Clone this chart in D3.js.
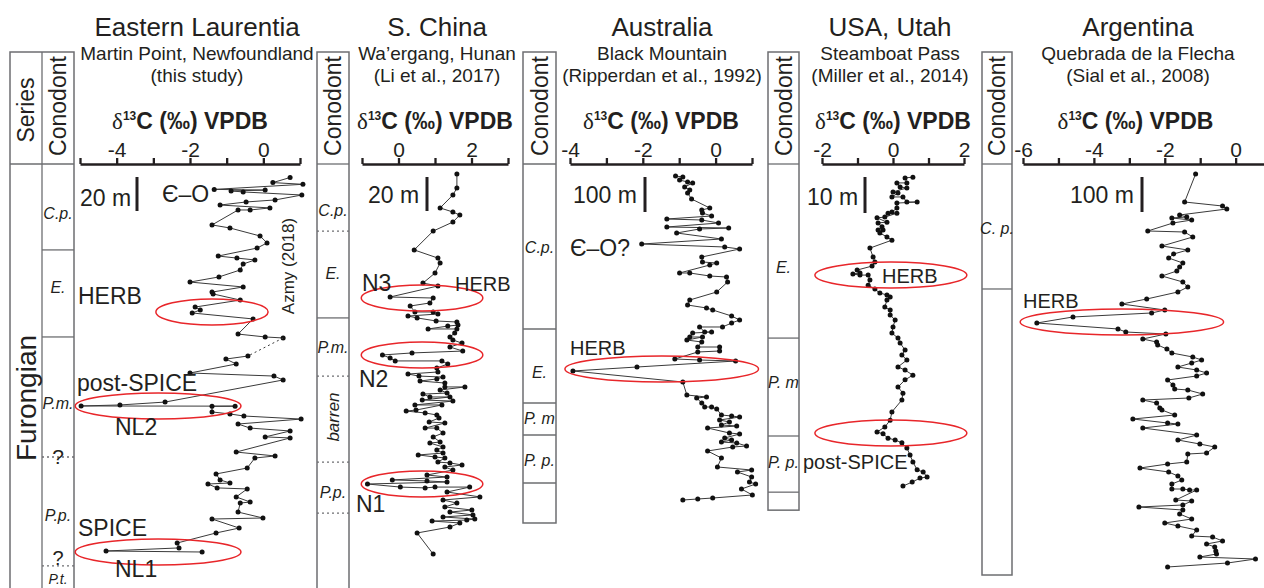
<!DOCTYPE html>
<html>
<head>
<meta charset="utf-8">
<title>Furongian carbon isotope correlation</title>
<style>
  body { margin: 0; background: #fff; }
  text { font-family: "Liberation Sans", Arial, sans-serif; fill: #231f20; }
  .box { fill: none; stroke: #6d6e71; stroke-width: 1.5; }
  .zone { stroke: #6d6e71; stroke-width: 1.3; }
  .zone.dot { stroke-dasharray: 2,3; }
  .axis path, .axis line { stroke: #231f20; stroke-width: 2.3; }
  .axis text { font-size: 21px; fill: #231f20; }
  .curve { fill: none; stroke: #3a3a3a; stroke-width: 1; }
  .pt { fill: #111; }
  .oval { fill: none; stroke: #e8262a; stroke-width: 1.5; }
</style>
</head>
<body>
<script src="https://d3js.org/d3.v7.min.js"></script>
<script>
// ---- data : [height (m), d13C (permil VPDB)] ----
var laurentiaUpper = [[225,0.73],[222,0.26],[221,1.08],[218,-1.34],[217.6,0.05],[217.1,-0.88],[216.5,-0.55],[214.7,1.05],
  [211.8,0.32],[210.6,-0.47],[208.8,-1.18],[207.1,0.18],[205.9,-0.36],[205.9,-0.69],[197.1,-1.40],[195.3,-0.91],[190.6,-0.09],
  [186.5,0.10],[183.5,-0.17],[178.8,-1.23],[177.6,-0.72],[176.5,-0.23],[174.1,-0.55],[170.6,-0.63],[166.5,-1.21],[163.5,-2.00],
  [160.6,-0.55],[157.6,-1.40],[156.5,-1.37],[152.9,-0.63],[148.8,-1.86],[147.1,-1.72],[145.3,-1.94],[141.8,-0.28],[132.9,-0.69],
  [131.2,0.05],[130.6,0.54]];
var laurentiaLower = [[120,-0.42],[118.2,-1.02],[115.3,-0.74],[110,-2.00],[108.2,0.29],[105.9,0.54],[92.9,-2.68],[91.2,-3.91],
  [90.6,-4.97],[90.5,-0.77],[90.4,-1.40],[87.1,-1.40],[85.9,-0.91],[84.7,-0.53],[82.9,1.03],[80,-0.69],[77.6,-0.36],[75.9,0.73],
  [72.4,0.05],[71.8,0.73],[63.5,-0.74],[61.2,0.32],[60,-0.23],[54.1,-0.44],[50.6,-1.29],[47.1,-1.18],[45.3,-0.91],[44.7,-1.51],
  [42.4,-1.26],[41.8,-0.44],[37.1,-0.74],[34.1,-0.36],[33.5,-0.63],[28.2,-0.69],[24.7,-0.01],[24.1,-1.40],[18.8,-0.66],
  [15.9,-1.29],[10,-2.35],[7.1,-2.30],[5.3,-4.29],[4.7,-1.67]];
var china = [[227.1,1.60],[218.8,1.60],[214.7,1.49],[207.1,1.14],[204.7,1.49],[202.9,1.68],[198.8,1.49],[193.5,0.95],[182.4,0.43],
  [177.6,1.08],[174.7,1.14],[168.8,1.00],[162.9,0.67],[161.2,1.08],[154.7,-0.23],[154.1,0.95],[151.2,0.86],[149.4,0.32],[145.9,0.45],
  [145.9,0.95],[144.7,1.08],[143.5,0.26],[142.4,0.51],[140.6,1.03],[140,1.60],[138.2,1.63],[137.6,1.35],[135.9,0.81],[135.9,1.60],
  [133.5,1.54],[131.2,1.41],[129.4,1.49],[127.6,1.74],[125.3,1.41],[122.9,1.76],[121.8,0.37],[120.6,-0.44],[118.8,-0.23],[117.1,-0.09],
  [117.1,1.19],[115.3,1.35],[112.9,1.05],[110.6,1.08],[109.4,0.26],[108.2,0.56],[107.6,1.22],[106.5,1.05],[105.3,0.59],[104.1,1.27],
  [101.8,1.27],[101.8,1.82],[100,1.14],[98.2,1.33],[97.6,0.67],[95.9,0.86],[95.9,1.41],[94.1,0.65],[93.5,1.49],[91.2,0.45],[91.2,1.19],
  [88.2,0.48],[87.6,0.21],[86.5,0.73],[85.3,1.05],[83.5,1.11],[81.2,0.84],[80.6,1.27],[77.6,0.73],[77.6,1.05],[74.7,1.22],[72.4,0.95],
  [69.4,1.14],[68.8,0.86],[66.5,1.22],[64.7,1.05],[62.9,1.22],[61.8,0.54],[60.6,1.00],[60,1.27],[57.6,1.08],[57.1,1.41],[55.9,1.74],
  [54.7,1.27],[52.9,1.49],[50,0.78],[48.8,1.33],[47.1,-0.17],[46.5,0.78],[45.9,1.33],[44.7,-0.85],[42.9,0.05],[42.4,0.73],[42.9,1.00],
  [42.9,1.95],[40,1.33],[37.1,2.23],[35.3,1.22],[33.5,1.60],[31.2,1.27],[29.4,2.01],[28.2,1.41],[26.5,2.04],[25.3,1.22],[24.1,2.09],
  [23.5,1.87],[22.9,0.92],[21.8,1.68],[19.4,1.41],[15.9,0.51],[3.5,0.95]];
var australia = [[925.7,-1.10],[922.9,-0.90],[914.3,-0.99],[908.6,-0.77],[905.7,-0.63],[894.3,-0.85],[885.7,-0.71],[877.1,-0.77],
  [860,-0.66],[834.3,-0.16],[828.6,-0.38],[820,-0.36],[811.4,-0.11],[802.9,-1.34],[800,-0.38],[791.4,0.08],[780,-1.34],[777.1,0.36],
  [774.3,-0.44],[762.9,-1.07],[745.7,0.16],[731.4,-2.03],[722.9,0.25],[717.1,0.66],[694.3,-0.38],[680,-0.36],[677.1,0.03],[671.4,-0.16],
  [648.6,-0.99],[648.6,-0.71],[640,-0.16],[637.1,0.30],[622.9,0.33],[594.3,0.03],[571.4,-0.71],[557.1,-0.77],[548.6,-0.25],[542.9,-0.08],
  [525.7,0.44],[514.3,0.66],[505.7,0.44],[494.3,0.19],[494.3,-0.44],[480,-0.30],[480,-0.11],[477.1,-0.63],[465.7,-0.71],[465.7,-0.36],
  [457.1,-0.79],[451.4,-0.38],[437.1,-0.49],[437.1,0.11],[425.7,0.11],[422.9,-0.49],[402.9,-1.12],[400,-0.44],[397.1,0.55],[380,-2.16],
  [368.6,-3.92],[337.1,-0.90],[300,-0.79],[294.3,-0.25],[291.4,-0.52],[277.1,-0.38],[265.7,-0.30],[265.7,-0.11],[260,0.03],[242.9,0.16],
  [240,0.44],[237.1,0.66],[228.6,0.11],[222.9,0.38],[214.3,0.16],[211.4,0.58],[205.7,-0.22],[191.4,0.38],[188.6,0.66],[177.1,0.25],
  [171.4,0.44],[165.7,0.16],[162.9,0.58],[154.3,0.85],[151.4,0.47],[140,-0.22],[120,0.16],[94.3,0.05],[85.7,0.99],[80,0.60],[65.7,0.99],
  [51.4,0.93],[45.7,1.10],[31.4,0.71],[14.3,1.01],[5.7,-0.08],[2.9,-0.49],[0,-0.90]];
var utah = [[86.9,0.56],[86.7,0.34],[85.3,0.39],[85.3,0.11],[84.2,0.20],[83.9,0.39],[82.8,0.00],[82.5,0.14],[81.4,-0.03],[81.4,0.28],
  [80,0.39],[80,0.68],[79.7,0.11],[78.3,0.11],[77.2,-0.03],[76.9,-0.14],[76.9,0.11],[75.8,-0.23],[75.6,-0.45],[74.4,-0.17],[74.2,-0.42],
  [73.1,-0.31],[72.2,-0.42],[72.2,-0.28],[71.4,-0.37],[70.3,-0.17],[69.4,-0.03],[67.2,-0.65],[64.7,-0.56],[63.3,-0.51],[62.2,-0.59],
  [61.1,-1.01],[60.3,-0.93],[60,-1.13],[59.7,-0.93],[59.7,-0.70],[58.3,-0.65],[56.9,-0.70],[55.8,-0.51],[54.7,-0.37],[54.2,-0.17],
  [53.6,-0.08],[52.8,-0.17],[50.8,-0.23],[50,-0.08],[48.6,-0.08],[47.2,0.06],[45.3,0.00],[43.6,-0.03],[42.2,0.14],[40.8,0.20],[38.9,0.34],
  [37.5,0.25],[36.1,0.39],[34.2,0.14],[33.3,0.34],[31.9,0.56],[30.6,0.34],[28.6,0.14],[26.9,0.28],[25,0.25],[21.7,-0.03],[19.4,-0.08],
  [17.5,-0.23],[16.1,-0.45],[15.6,-0.28],[14.4,-0.14],[13.9,0.06],[13.1,0.25],[11.7,0.39],[9.7,0.48],[7.8,0.56],[5.6,0.68],[5,0.85],
  [3.6,0.96],[3.3,0.76],[2.2,0.54],[1.1,0.28]];
var argentina = [[1131.4,-1.13],[1051.4,-1.44],[1040,-0.37],[1031.4,-0.25],[1014.3,-1.58],[1008.6,-1.38],[1005.7,-1.80],[1000,-1.24],
  [991.4,-1.77],[968.6,-2.48],[965.7,-1.44],[951.4,-1.21],[925.7,-2.08],[914.3,-1.35],[902.9,-1.75],[891.4,-1.89],[877.1,-1.49],
  [865.7,-1.58],[854.3,-1.66],[840,-2.08],[822.9,-1.49],[808.6,-1.35],[794.3,-1.63],[774.3,-2.51],[760,-3.21],[742.9,-2.00],[734.3,-2.37],
  [722.9,-4.59],[705.7,-5.61],[688.6,-3.32],[680,-3.10],[674.3,-1.97],[660,-2.62],[651.4,-2.23],[642.9,-2.20],[631.4,-1.94],[620,-1.80],
  [608.6,-1.21],[600,-0.96],[591.4,-1.24],[580,-1.63],[571.4,-1.10],[562.9,-0.82],[554.3,-1.10],[542.9,-1.92],[528.6,-1.77],[517.1,-1.72],
  [514.3,-1.35],[502.9,-0.93],[491.4,-1.32],[485.7,-2.62],[477.1,-2.23],[462.9,-2.14],[457.1,-2.08],[442.9,-1.72],[431.4,-2.90],[420,-1.92],
  [417.1,-1.63],[405.7,-2.62],[385.7,-1.10],[371.4,-1.63],[360,-1.01],[351.4,-0.59],[334.3,-0.82],[331.4,-1.35],[308.6,-1.38],[302.9,-1.92],
  [291.4,-2.70],[280,-1.89],[268.6,-1.63],[257.1,-1.52],[245.7,-1.80],[231.4,-1.80],[231.4,-1.49],[228.6,-1.30],[228.6,-1.10],[200,-1.69],
  [197.1,-1.24],[185.7,-1.49],[180,-2.73],[171.4,-1.49],[160,-1.58],[145.7,-1.24],[134.3,-2.00],[125.7,-1.63],[114.3,-1.10],[97.1,-1.24],
  [94.3,-0.65],[82.9,-0.37],[74.3,-0.82],[65.7,-0.59],[54.3,-0.56],[45.7,-0.54],[37.1,-1.01],[31.4,0.56],[20,-0.23],[8.6,-1.92]];

// conodont zone boundaries (height, dotted) and zone names (name, mid height)
var laurentiaBounds = [[182.4,0],[131.2,0],[60.6,1],[-3.5,1]];
var laurentiaZones = [["C.p.",204.1],["E.",160.6],["P.m.",92.4],["P.p.",26.5],["P.t.",-11.5]];
var chinaBounds = [[193.5,1],[142.4,0],[108.2,1],[57.6,1],[27.6,1]];
var chinaZones = [["C.p.",205.9],["E.",168.8],["P.m.",125.3],["barren",84.1],["P.p.",40]];
var australiaBounds = [[488.6,0],[277.1,0],[185.7,0],[48.6,0]];
var australiaZones = [["C.p.",722.9],["E.",365.7],["P. m",234.3],["P. p.",114.3]];
var utahBounds = [[42.2,0],[15,0],[-0.6,0]];
var utahZones = [["E.",61.9],["P. m",30],["P. p.",7.8]];
var argentinaBounds = [[802.9,0]];
var argentinaZones = [["C. p.",977.1]];

// excursion ovals: [d13C min, d13C max, height]
var laurentiaOvals = [[-2.93,0.13,145.9],[-5.13,-0.61,90.6],[-5.13,-0.61,4.7]];
var chinaOvals = [[-1.02,2.31,154.1],[-1.02,2.31,120.6],[-1.02,2.31,44.7]];
var australiaOvals = [[-4.14,1.18,374.3]];
var utahOvals = [[-2.2,2.08,59.7],[-2.2,2.08,15.8]];
var argentinaOvals = [[-6.08,-0.34,708.6]];

// ---- layout ----
var W = 1264, H = 588, axisY = 164, boxTop = 52;

var sections = [
  { title: "Eastern Laurentia", sub: ["Martin Point, Newfoundland", "(this study)"], tx: 197,
    cols: [10, 42, 74], boxEnd: null, xr: [80, 300], dom: [-5, 1], lab: [-4, -2, 0],
    base: 560, k: 1.7, bar: 20, barText: "20 m", barTx: 80, barX: 137, barTy: 206,
    series: [laurentiaUpper, laurentiaLower], bounds: laurentiaBounds, zones: laurentiaZones, ovals: laurentiaOvals,
    notes: [["\u0404\u2013O", 162, 202, 23], ["HERB", 78, 304, 23], ["post-SPICE", 77, 391, 23], ["NL2", 115, 435, 23],
            ["SPICE", 78, 536, 23], ["NL1", 115, 577, 23]] },
  { title: "S. China", sub: ["Wa\u2019ergang, Hunan", "(Li et al., 2017)"], tx: 437,
    cols: [317, 349], boxEnd: null, xr: [362, 508], dom: [-1, 3], lab: [0, 2],
    base: 560, k: 1.7, bar: 20, barText: "20 m", barTx: 368, barX: 427, barTy: 203,
    series: [china], bounds: chinaBounds, zones: chinaZones, ovals: chinaOvals,
    notes: [["N3", 362, 291, 23], ["HERB", 455, 291, 20], ["N2", 359, 387, 23], ["N1", 356, 512, 23]] },
  { title: "Australia", sub: ["Black Mountain", "(Ripperdan et al., 1992)"], tx: 662,
    cols: [523, 556], boxEnd: -65.7, xr: [570, 752], dom: [-4, 1], lab: [-4, -2, 0],
    base: 500, k: 0.35, bar: 100, barText: "100 m", barTx: 573, barX: 645, barTy: 203,
    series: [australia], bounds: australiaBounds, zones: australiaZones, ovals: australiaOvals,
    notes: [["\u0404\u2013O?", 570, 256, 23], ["HERB", 570, 355, 20]] },
  { title: "USA, Utah", sub: ["Steamboat Pass", "(Miller et al., 2014)"], tx: 890,
    cols: [768, 799], boxEnd: -5.6, xr: [822, 964], dom: [-2, 2], lab: [-2, 0, 2],
    base: 490, k: 3.6, bar: 10, barText: "10 m", barTx: 807, barX: 865, barTy: 205,
    series: [utah], bounds: utahBounds, zones: utahZones, ovals: utahOvals,
    notes: [["HERB", 882, 283, 20], ["post-SPICE", 803, 469, 20]] },
  { title: "Argentina", sub: ["Quebrada de la Flecha", "(Sial et al., 2008)"], tx: 1138,
    cols: [982, 1012], boxEnd: -14.3, xr: [1023, 1264], dom: [-6, 0.8], lab: [-6, -4, -2, 0],
    base: 570, k: 0.35, bar: 100, barText: "100 m", barTx: 1070, barX: 1142, barTy: 203,
    series: [argentina], bounds: argentinaBounds, zones: argentinaZones, ovals: argentinaOvals,
    notes: [["HERB", 1023, 308, 20]] }
];

var svg = d3.select("body").append("svg").attr("width", W).attr("height", H);

function vtext(g, str, cx, cy, size, italic) {
  g.append("text").attr("transform", "translate(" + cx + "," + cy + ") rotate(-90)")
    .attr("text-anchor", "middle").attr("dy", "0.36em")
    .style("font-size", size + "px").style("font-style", italic ? "italic" : null).text(str);
}

sections.forEach(function(s) {
  var g = svg.append("g");
  var x = d3.scaleLinear().domain(s.dom).range(s.xr);
  var y = d3.scaleLinear().domain([0, 100]).range([s.base, s.base - 100 * s.k]);

  // titles
  g.append("text").attr("x", s.tx).attr("y", 36).attr("text-anchor", "middle").style("font-size", "26px").text(s.title);
  g.append("text").attr("x", s.tx).attr("y", 60).attr("text-anchor", "middle").style("font-size", "19px").text(s.sub[0]);
  g.append("text").attr("x", s.tx).attr("y", 82).attr("text-anchor", "middle").style("font-size", "19px").text(s.sub[1]);

  // conodont (and series) columns
  var c0 = s.cols[0], c1 = s.cols[s.cols.length - 1], cL = s.cols[s.cols.length - 2];
  var bottom = s.boxEnd == null ? H + 2 : y(s.boxEnd);
  g.append("rect").attr("class", "box").attr("x", c0).attr("y", boxTop).attr("width", c1 - c0).attr("height", bottom - boxTop);
  s.cols.slice(1, -1).forEach(function(c) {
    g.append("line").attr("class", "zone").attr("x1", c).attr("x2", c).attr("y1", boxTop).attr("y2", bottom);
  });
  g.append("line").attr("class", "zone").attr("x1", c0).attr("x2", c1).attr("y1", axisY).attr("y2", axisY);
  s.bounds.forEach(function(b) {
    g.append("line").attr("class", b[1] ? "zone dot" : "zone")
      .attr("x1", cL).attr("x2", c1 + (b[1] ? 2 : 0)).attr("y1", y(b[0])).attr("y2", y(b[0]));
  });
  var mid = (cL + c1) / 2;
  vtext(g, "Conodont", mid, 106, 23);
  s.zones.forEach(function(z) {
    if (z[0] === "barren") { vtext(g, z[0], mid, y(z[1]), 17, true); return; }
    g.append("text").attr("x", mid).attr("y", y(z[1])).attr("dy", "0.35em").attr("text-anchor", "middle")
      .style("font-size", z[0] === "P.t." ? "14px" : "16px").style("font-style", "italic").text(z[0]);
  });

  // d13C axis
  var ax = d3.axisTop(x)
    .tickValues(d3.range(Math.ceil(s.dom[0]), Math.floor(s.dom[1]) + 1))
    .tickSize(6).tickSizeOuter(0).tickPadding(1)
    .tickFormat(function(d) { return s.lab.indexOf(d) >= 0 ? String(d) : ""; });
  g.append("g").attr("class", "axis").attr("transform", "translate(0," + axisY + ")").call(ax)
    .selectAll("text").style("font-family", "'Liberation Sans', Arial, sans-serif");

  var at = g.append("text").attr("x", (s.xr[0] + Math.min(s.xr[1], W)) / 2 + (s.dom[1] % 1 ? -8 : 0)).attr("y", 129)
    .attr("text-anchor", "middle").style("font-size", "23px").style("font-weight", "bold");
  at.append("tspan").style("font-family", "'Liberation Serif', serif").style("font-weight", "normal").text("\u03b4");
  at.append("tspan").attr("dy", -9).style("font-size", "12px").text("13");
  at.append("tspan").attr("dy", 9).text("C (\u2030) VPDB");

  // scale bar
  g.append("text").attr("x", s.barTx).attr("y", s.barTy).style("font-size", "23px").text(s.barText);
  g.append("line").attr("x1", s.barX).attr("x2", s.barX).attr("y1", 177).attr("y2", 177 + (y(0) - y(s.bar)))
    .style("stroke", "#231f20").style("stroke-width", 3);

  // curves
  var line = d3.line().x(function(d) { return x(d[1]); }).y(function(d) { return y(d[0]); });
  s.series.forEach(function(arr) {
    g.append("path").datum(arr).attr("class", "curve").attr("d", line);
    g.selectAll(null).data(arr).join("circle").attr("class", "pt")
      .attr("cx", function(d) { return x(d[1]); }).attr("cy", function(d) { return y(d[0]); }).attr("r", 2.5);
  });
  if (s.series.length > 1) {
    var a = s.series[0][s.series[0].length - 1], b = s.series[1][0];
    g.append("path").datum([a, b]).attr("class", "curve").attr("d", line).style("stroke-dasharray", "2,3");
  }

  // ovals
  s.ovals.forEach(function(o) {
    g.append("ellipse").attr("class", "oval")
      .attr("cx", (x(o[0]) + x(o[1])) / 2).attr("cy", y(o[2]))
      .attr("rx", (x(o[1]) - x(o[0])) / 2).attr("ry", 13);
  });

  // event labels
  s.notes.forEach(function(n) {
    g.append("text").attr("x", n[1]).attr("y", n[2]).style("font-size", n[3] + "px").text(n[0]);
  });
});

// series column of the first section
vtext(svg, "Series", 26, 110, 23);
vtext(svg, "Furongian", 26, 398, 28);
svg.append("text").attr("x", 58).attr("y", 457).attr("dy", "0.35em").attr("text-anchor", "middle").style("font-size", "21px").text("?");
svg.append("text").attr("x", 58).attr("y", 558).attr("dy", "0.35em").attr("text-anchor", "middle").style("font-size", "20px").text("?");
vtext(svg, "Azmy (2018)", 288, 266, 17);
</script>
</body>
</html>
